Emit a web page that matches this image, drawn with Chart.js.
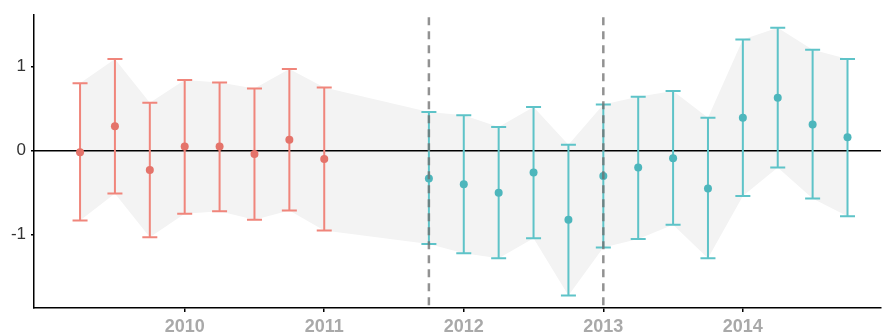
<!DOCTYPE html>
<html>
<head>
<meta charset="utf-8">
<script src="https://cdn.jsdelivr.net/npm/chart.js@4/dist/chart.umd.min.js"></script>
<style>
  html, body { margin: 0; padding: 0; background: #fff; }
  #grafico { display: block; }
</style>
</head>
<body>
<canvas id="grafico" width="885" height="335"></canvas>
<script>
// periodo antes del corte (rojo)
const redQuarters = [2009.25, 2009.5, 2009.75, 2010, 2010.25, 2010.5, 2010.75, 2011];
const redEst  = [-0.02, 0.29, -0.23, 0.05, 0.05, -0.04, 0.13, -0.10];
const redLow  = [-0.83, -0.51, -1.03, -0.75, -0.72, -0.82, -0.71, -0.95];
const redHigh = [0.80, 1.09, 0.57, 0.84, 0.81, 0.74, 0.97, 0.75];

// periodo despues (turquesa)
const tealQuarters = [2011.75, 2012, 2012.25, 2012.5, 2012.75, 2013, 2013.25, 2013.5, 2013.75, 2014, 2014.25, 2014.5, 2014.75];
const tealEst  = [-0.33, -0.40, -0.50, -0.26, -0.82, -0.30, -0.20, -0.09, -0.45, 0.39, 0.63, 0.31, 0.16];
const tealLow  = [-1.11, -1.22, -1.28, -1.04, -1.72, -1.15, -1.05, -0.88, -1.28, -0.54, -0.20, -0.57, -0.78];
const tealHigh = [0.46, 0.42, 0.28, 0.52, 0.07, 0.55, 0.64, 0.71, 0.39, 1.32, 1.46, 1.20, 1.09];

const yearTicks = [2010, 2011, 2012, 2013, 2014];
const valueTicks = [-1, 0, 1];
const breakLines = [2011.75, 2013];

const RED_BAR = '#F0857B', RED_PT = '#E4736A';
const TEAL_BAR = '#5EC3C8', TEAL_PT = '#4DB6BC';

function puntos(xs, ys) {
    return xs.map((x, i) => ({ x: x, y: ys[i] }));
}

const allQuarters = redQuarters.concat(tealQuarters);
const allHigh = redHigh.concat(tealHigh);
const allLow = redLow.concat(tealLow);

// barras de error, linea del cero y cortes, dibujados con las escalas
const extras = {
    id: 'extras',
    beforeDatasetDraw(chart, args) {
        if (args.index !== 2) return;
        const ctx = chart.ctx;
        const xs = chart.scales.x, ys = chart.scales.y, area = chart.chartArea;
        ctx.save();
        ctx.strokeStyle = '#000';
        ctx.lineWidth = 1.5;
        ctx.beginPath();
        ctx.moveTo(area.left, ys.getPixelForValue(0));
        ctx.lineTo(area.right, ys.getPixelForValue(0));
        ctx.stroke();

        function barras(qs, lo, hi, color) {
            ctx.strokeStyle = color;
            ctx.lineWidth = 2;
            for (let i = 0; i < qs.length; i++) {
                const px = xs.getPixelForValue(qs[i]);
                const y1 = ys.getPixelForValue(lo[i]);
                const y2 = ys.getPixelForValue(hi[i]);
                ctx.beginPath();
                ctx.moveTo(px, y1); ctx.lineTo(px, y2);
                ctx.moveTo(px - 7.5, y1); ctx.lineTo(px + 7.5, y1);
                ctx.moveTo(px - 7.5, y2); ctx.lineTo(px + 7.5, y2);
                ctx.stroke();
            }
        }
        barras(redQuarters, redLow, redHigh, RED_BAR);
        barras(tealQuarters, tealLow, tealHigh, TEAL_BAR);
        ctx.restore();
    },
    afterDatasetsDraw(chart) {
        const ctx = chart.ctx;
        const xs = chart.scales.x, area = chart.chartArea;
        ctx.save();
        ctx.strokeStyle = 'rgba(110,110,110,0.75)';
        ctx.lineWidth = 2.5;
        ctx.setLineDash([8, 6]);
        breakLines.forEach(function (b) {
            const px = xs.getPixelForValue(b);
            ctx.beginPath();
            ctx.moveTo(px, area.top + 2);
            ctx.lineTo(px, area.bottom);
            ctx.stroke();
        });
        ctx.restore();
    }
};

let canvas = document.getElementById('grafico');

let diagrama = new Chart(canvas, {
    type: 'scatter',
    data: {
        datasets: [{
            type: 'line',
            order: 3,
            data: puntos(allQuarters, allHigh),
            pointRadius: 0,
            borderWidth: 0,
            borderColor: 'rgba(0,0,0,0)',
            lineTension: 0,
            fill: false
        }, {
            type: 'line',
            order: 2,
            data: puntos(allQuarters, allLow),
            pointRadius: 0,
            borderWidth: 0,
            borderColor: 'rgba(0,0,0,0)',
            backgroundColor: '#F3F3F3',
            lineTension: 0,
            fill: '-1'
        }, {
            order: 1,
            data: puntos(redQuarters, redEst),
            pointRadius: 4,
            pointBackgroundColor: RED_PT,
            pointBorderWidth: 0
        }, {
            order: 0,
            data: puntos(tealQuarters, tealEst),
            pointRadius: 4,
            pointBackgroundColor: TEAL_PT,
            pointBorderWidth: 0
        }]
    },
    options: {
        responsive: false,
        animation: false,
        events: [],
        layout: { padding: { top: 12, right: 0, left: 0, bottom: 0 } },
        plugins: { legend: { display: false }, tooltip: { enabled: false } },
        scales: {
            x: {
                type: 'linear',
                min: 2008.92,
                max: 2014.99,
                afterBuildTicks: function (axis) {
                    axis.ticks = yearTicks.map(v => ({ value: v }));
                },
                afterFit: function (axis) { axis.height = 27; },
                grid: { drawOnChartArea: false, drawTicks: true, tickLength: 4, color: '#000', lineWidth: 1.5 },
                border: { color: '#000', width: 1.5 },
                ticks: {
                    color: '#A9A9A9',
                    padding: 4,
                    maxRotation: 0,
                    font: { family: 'Liberation Sans', size: 18, weight: 'bold' },
                    callback: v => String(v)
                }
            },
            y: {
                min: -1.87,
                max: 1.61,
                afterBuildTicks: function (axis) {
                    axis.ticks = valueTicks.map(v => ({ value: v }));
                },
                afterFit: function (axis) { axis.width = 34; },
                grid: { drawOnChartArea: false, drawTicks: true, tickLength: 3, color: '#000', lineWidth: 1.5 },
                border: { color: '#000', width: 1.5 },
                ticks: {
                    color: '#333',
                    padding: 5,
                    font: { family: 'Liberation Sans', size: 17 },
                    callback: v => String(v)
                }
            }
        }
    },
    plugins: [extras]
});
</script>
</body>
</html>
